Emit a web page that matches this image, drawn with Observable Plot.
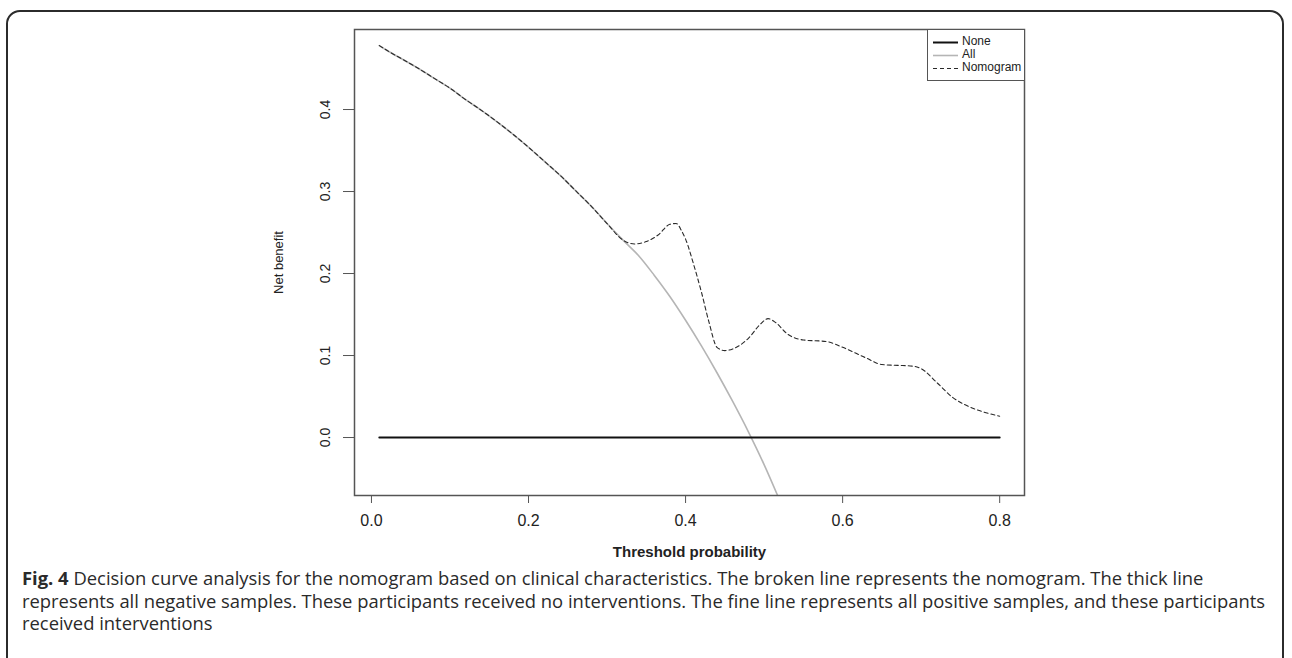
<!DOCTYPE html>
<html><head><meta charset="utf-8">
<script src="https://cdn.jsdelivr.net/npm/d3@7"></script>
<script src="https://cdn.jsdelivr.net/npm/@observablehq/plot@0.6"></script>
<style>
body{margin:0;background:#fff;width:1292px;height:658px;overflow:hidden;position:relative;font-family:"Liberation Sans",Arial,sans-serif}
#frame{position:absolute;left:6px;top:10px;width:1278px;height:720px;border:2px solid #2b2b2b;border-radius:14px;box-sizing:border-box}
#chart{position:absolute;left:0;top:0}
#legend{position:absolute;left:927px;top:29px;width:98px;height:52px;border:1px solid #555;box-sizing:border-box;background:#fff;font-size:12px;color:#222}
#legend .row{position:absolute;left:0;height:13px;width:100%}
#legend svg{position:absolute;left:5px;top:0}
#legend span{position:absolute;left:34px;top:-1px;line-height:13px}
#caption{position:absolute;left:22px;top:567px;font-family:"Open Sans",sans-serif;font-size:18.4px;line-height:22.5px;color:#2a2a2a;white-space:nowrap}
</style></head>
<body>
<div id="frame"></div>
<div id="chart"></div>
<div id="legend"></div>
<div id="caption"></div>
<script>
const xTicks = [0.0, 0.2, 0.4, 0.6, 0.8];
const yTicks = [0.0, 0.1, 0.2, 0.3, 0.4];
const xLabel = "Threshold probability";
const yLabel = "Net benefit";
const seriesNames = ["None", "All", "Nomogram"];

const noneX = [0.01, 0.80];
const noneY = [0.0, 0.0];

const allX = [0.01,0.02,0.04,0.06,0.08,0.10,0.12,0.14,0.16,0.18,0.20,0.22,0.24,0.26,0.28,0.30,0.32,0.34,0.36,0.38,0.40,0.42,0.44,0.46,0.48,0.50,0.52];
const allY = [0.478,0.472,0.461,0.450,0.438,0.426,0.412,0.399,0.385,0.370,0.354,0.337,0.320,0.301,0.282,0.261,0.241,0.222,0.198,0.172,0.143,0.112,0.079,0.044,0.007,-0.033,-0.077];

const nomoX = [0.01,0.02,0.04,0.06,0.08,0.10,0.12,0.14,0.16,0.18,0.20,0.22,0.24,0.26,0.28,0.30,0.32,0.335,0.35,0.365,0.38,0.388,0.395,0.40,0.41,0.42,0.43,0.44,0.45,0.46,0.48,0.495,0.505,0.515,0.53,0.55,0.58,0.60,0.63,0.65,0.67,0.69,0.70,0.72,0.74,0.76,0.78,0.80];
const nomoY = [0.478,0.472,0.461,0.450,0.438,0.426,0.412,0.399,0.385,0.370,0.354,0.337,0.320,0.301,0.282,0.261,0.241,0.236,0.239,0.247,0.260,0.261,0.252,0.242,0.212,0.178,0.140,0.110,0.106,0.108,0.121,0.138,0.145,0.140,0.126,0.119,0.117,0.110,0.097,0.089,0.088,0.087,0.084,0.067,0.049,0.038,0.031,0.026];

const captionBold = "Fig. 4";
const captionLines = [
  " Decision curve analysis for the nomogram based on clinical characteristics. The broken line represents the nomogram. The thick line",
  "represents all negative samples. These participants received no interventions. The fine line represents all positive samples, and these participants",
  "received interventions"
];

const toRows = (xs, ys) => xs.map((x, i) => ({x, y: ys[i]}));
const noneData = toRows(noneX, noneY);
const allData = toRows(allX, allY);
const nomoData = toRows(nomoX, nomoY);

const styles = {
  None: {stroke: "#111", strokeWidth: 2, dash: null},
  All: {stroke: "#b5b5b5", strokeWidth: 1.6, dash: null},
  Nomogram: {stroke: "#2a2a2a", strokeWidth: 1.1, dash: "4,3"}
};

const H = 570;
const chart = Plot.plot({
  width: 1292,
  height: H,
  marginLeft: 354,
  marginRight: 268,
  marginTop: 29,
  marginBottom: H - 495,
  x: {domain: [-0.0216, 0.8316]},
  y: {domain: [-0.0707, 0.4976]},
  style: {fontFamily: "'Liberation Sans', Arial, sans-serif", color: "#222", background: "transparent"},
  marks: [
    Plot.axisX({ticks: xTicks, tickFormat: d3.format(".1f"), tickSize: 8, tickPadding: 11, fontSize: 16, stroke: "#555", label: null}),
    Plot.axisY({ticks: yTicks, tickFormat: d3.format(".1f"), tickSize: 11, tickRotate: -90, tickPadding: 14, fontSize: 14, stroke: "#555", label: null}),
    Plot.line(allData, {x: "x", y: "y", stroke: styles.All.stroke, strokeWidth: styles.All.strokeWidth, clip: true, curve: "monotone-x"}),
    Plot.line(noneData, {x: "x", y: "y", stroke: styles.None.stroke, strokeWidth: styles.None.strokeWidth}),
    Plot.line(nomoData, {x: "x", y: "y", stroke: styles.Nomogram.stroke, strokeWidth: styles.Nomogram.strokeWidth, strokeDasharray: styles.Nomogram.dash, curve: "monotone-x"}),
    Plot.frame({stroke: "#555", strokeWidth: 1.5}),
    Plot.text([xLabel], {frameAnchor: "bottom", dy: 57, lineAnchor: "middle", textAnchor: "middle", fontWeight: "bold", fontSize: 15, fill: "#222"}),
    Plot.text([yLabel], {frameAnchor: "left", dx: -76, rotate: -90, textAnchor: "middle", lineAnchor: "middle", fontSize: 13, fill: "#222"})
  ]
});
document.getElementById("chart").appendChild(chart);

// legend
const legend = document.getElementById("legend");
seriesNames.forEach((name, i) => {
  const s = styles[name];
  const row = document.createElement("div");
  row.className = "row";
  row.style.top = (6 + i * 13) + "px";
  row.innerHTML = `<svg width="25" height="13"><line x1="0" x2="25" y1="6.5" y2="6.5" stroke="${s.stroke}" stroke-width="${s.strokeWidth}" ${s.dash ? `stroke-dasharray="${s.dash}"` : ""}/></svg><span>${name}</span>`;
  legend.appendChild(row);
});

// caption
const cap = document.getElementById("caption");
captionLines.forEach((line, i) => {
  const d = document.createElement("div");
  if (i === 0) {
    const b = document.createElement("b");
    b.textContent = captionBold;
    d.appendChild(b);
  }
  d.appendChild(document.createTextNode(line));
  cap.appendChild(d);
});
</script>
</body></html>
